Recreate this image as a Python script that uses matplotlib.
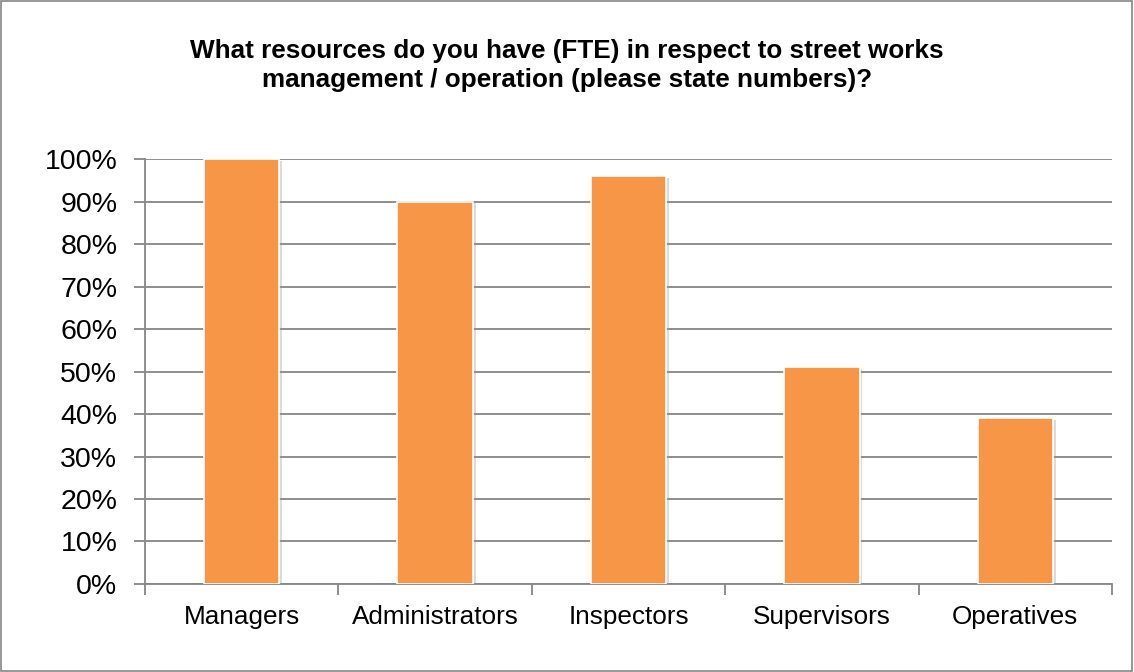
import matplotlib.pyplot as plt
import matplotlib.patheffects as pe
from matplotlib.patches import Rectangle
from matplotlib.ticker import MultipleLocator, PercentFormatter, FixedLocator

plt.rcParams['font.family'] = ['Liberation Sans', 'DejaVu Sans']

roles = ['Managers', 'Administrators', 'Inspectors', 'Supervisors', 'Operatives']
share = [100, 90, 96, 51, 39]

title = ('What resources do you have (FTE) in respect to street works\n'
         'management / operation (please state numbers)?')

fig = plt.figure(figsize=(11.34, 6.72), dpi=100)
ax = fig.add_axes([0.1279, 0.131, 0.8527, 0.632])

bars = ax.bar(range(len(roles)), share, width=0.39, color='#F79646',
              edgecolor='white', linewidth=1.2, zorder=3)
for b in bars:
    b.set_path_effects([pe.SimplePatchShadow(offset=(2, -1), shadow_rgbFace='#999999', alpha=0.35),
                        pe.Normal()])

ax.set_xlim(-0.5, len(roles) - 0.5)
ax.set_ylim(0, 100)
ax.yaxis.set_major_locator(MultipleLocator(10))
ax.yaxis.set_major_formatter(PercentFormatter(decimals=0))
ax.grid(axis='y', color='#868686', linewidth=1.3, zorder=0)

ax.set_xticks(range(len(roles)))
ax.set_xticklabels(roles)
ax.xaxis.set_minor_locator(FixedLocator([i - 0.5 for i in range(len(roles) + 1)]))
ax.tick_params(axis='x', which='major', length=0, labelsize=18.8, pad=15)
ax.tick_params(axis='x', which='minor', length=8, color='#868686', width=1.3)
ax.tick_params(axis='y', length=8, color='#868686', width=1.3, labelsize=20.5, pad=12)

for side in ['top', 'right']:
    ax.spines[side].set_visible(False)
for side in ['left', 'bottom']:
    ax.spines[side].set_color('#868686')
    ax.spines[side].set_linewidth(1.3)

fig.text(0.5, 0.903, title, ha='center', va='center', fontsize=18.8,
         fontweight='bold', linespacing=1.28)

# thin frame round the whole chart
fig.patches.append(Rectangle((0.0005, 0.0008), 0.998, 0.998, transform=fig.transFigure,
                             fill=False, edgecolor='#868686', linewidth=1.2))

fig.savefig('out.png', dpi=100)
